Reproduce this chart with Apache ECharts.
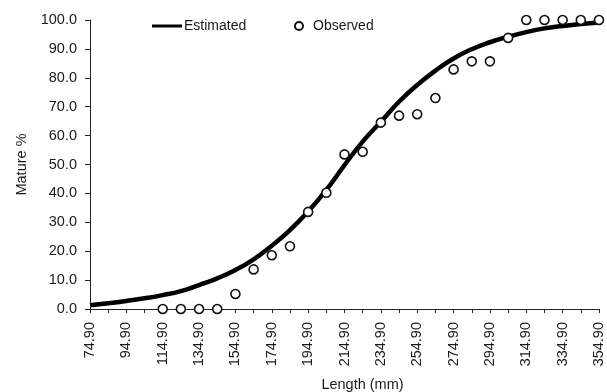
<!DOCTYPE html>
<html>
<head>
<meta charset="utf-8">
<script src="https://cdn.jsdelivr.net/npm/echarts@6/dist/echarts.min.js"></script>
<style>
  html, body { margin: 0; padding: 0; background: #fff; }
  #chart { width: 607px; height: 392px; }
</style>
</head>
<body>
<div id="chart"></div>
<script>
// Length classes (mm), one tick per 10 mm
const lengths = ['74.90', '84.90', '94.90', '104.90', '114.90', '124.90', '134.90', '144.90',
  '154.90', '164.90', '174.90', '184.90', '194.90', '204.90', '214.90', '224.90', '234.90',
  '244.90', '254.90', '264.90', '274.90', '284.90', '294.90', '304.90', '314.90', '324.90',
  '334.90', '344.90', '354.90'];

// Fitted maturity ogive (% mature)
const estimated = [1.3, 2.0, 2.8, 3.7, 4.8, 6.2, 8.3, 10.6, 13.5, 17.2, 21.9, 27.3, 33.7,
  41.2, 49.8, 57.9, 64.8, 71.7, 77.5, 82.5, 86.7, 89.9, 92.3, 94.2, 95.8, 97.1, 97.9, 98.6, 99.1];

// Observed proportion mature per length class (no fish below 114.90)
const observed = [null, null, null, null, 0, 0, 0, 0, 5.2, 13.7, 18.6, 21.7, 33.6,
  40.2, 53.5, 54.4, 64.5, 66.9, 67.4, 73.0, 82.9, 85.7, 85.7, 93.8, 100, 100, 100, 100, 100];

// Y-axis tick labels
const yTicks = ['0.0', '10.0', '20.0', '30.0', '40.0', '50.0', '60.0', '70.0', '80.0', '90.0', '100.0'];

const FONT = '"Liberation Sans", Arial, sans-serif';
const INK = '#1a1a1a';

const chart = echarts.init(document.getElementById('chart'), null, { renderer: 'canvas' });

chart.setOption({
  animation: false,
  backgroundColor: '#fff',
  textStyle: { fontFamily: FONT, color: INK },
  grid: { left: 90, right: 8, top: 20, bottom: 83, containLabel: false, outerBoundsMode: 'none' },
  legend: [
    {
      data: [{ name: 'Estimated', icon: 'rect' }],
      left: 147, top: 14,
      itemWidth: 30, itemHeight: 3, itemGap: 0,
      textStyle: { fontFamily: FONT, fontSize: 14, color: INK, padding: [0, 0, 0, -3] }
    },
    {
      data: ['Observed'],
      left: 289, top: 14,
      itemWidth: 18, itemHeight: 8,
      textStyle: { fontFamily: FONT, fontSize: 14, color: INK }
    }
  ],
  xAxis: {
    type: 'category',
    data: lengths,
    boundaryGap: false,
    name: 'Length (mm)',
    nameLocation: 'middle',
    nameGap: 68,
    nameTextStyle: { fontFamily: FONT, fontSize: 14.5, color: INK, padding: [0, 0, 0, 36] },
    axisLine: { lineStyle: { color: '#222', width: 1 } },
    axisTick: { show: true, interval: 0, length: 4, lineStyle: { color: '#222' } },
    axisLabel: {
      interval: 1,
      rotate: 90,
      margin: 13,
      fontFamily: FONT, fontSize: 14.5, color: INK
    },
    splitLine: { show: false }
  },
  yAxis: {
    type: 'value',
    min: 0, max: 100, interval: 10,
    name: 'Mature %',
    nameLocation: 'middle',
    nameGap: 56,
    nameTextStyle: { fontFamily: FONT, fontSize: 14.5, color: INK },
    axisLine: { show: true, lineStyle: { color: '#222', width: 1 } },
    axisTick: { show: true, length: 5, lineStyle: { color: '#222' } },
    axisLabel: {
      margin: 13,
      fontFamily: FONT, fontSize: 14.5, color: INK,
      formatter: (v) => yTicks[Math.round(v / 10)]
    },
    splitLine: { show: false }
  },
  series: [
    {
      name: 'Estimated',
      type: 'line',
      data: estimated,
      smooth: true,
      showSymbol: false,
      symbol: 'none',
      lineStyle: { color: '#000', width: 4.5 },
      itemStyle: { color: '#000' },
      z: 2
    },
    {
      name: 'Observed',
      type: 'scatter',
      data: observed,
      symbol: 'circle',
      symbolSize: 9,
      itemStyle: { color: '#fff', borderColor: '#111', borderWidth: 1.6, opacity: 1 },
      z: 3
    }
  ]
});
</script>
</body>
</html>
